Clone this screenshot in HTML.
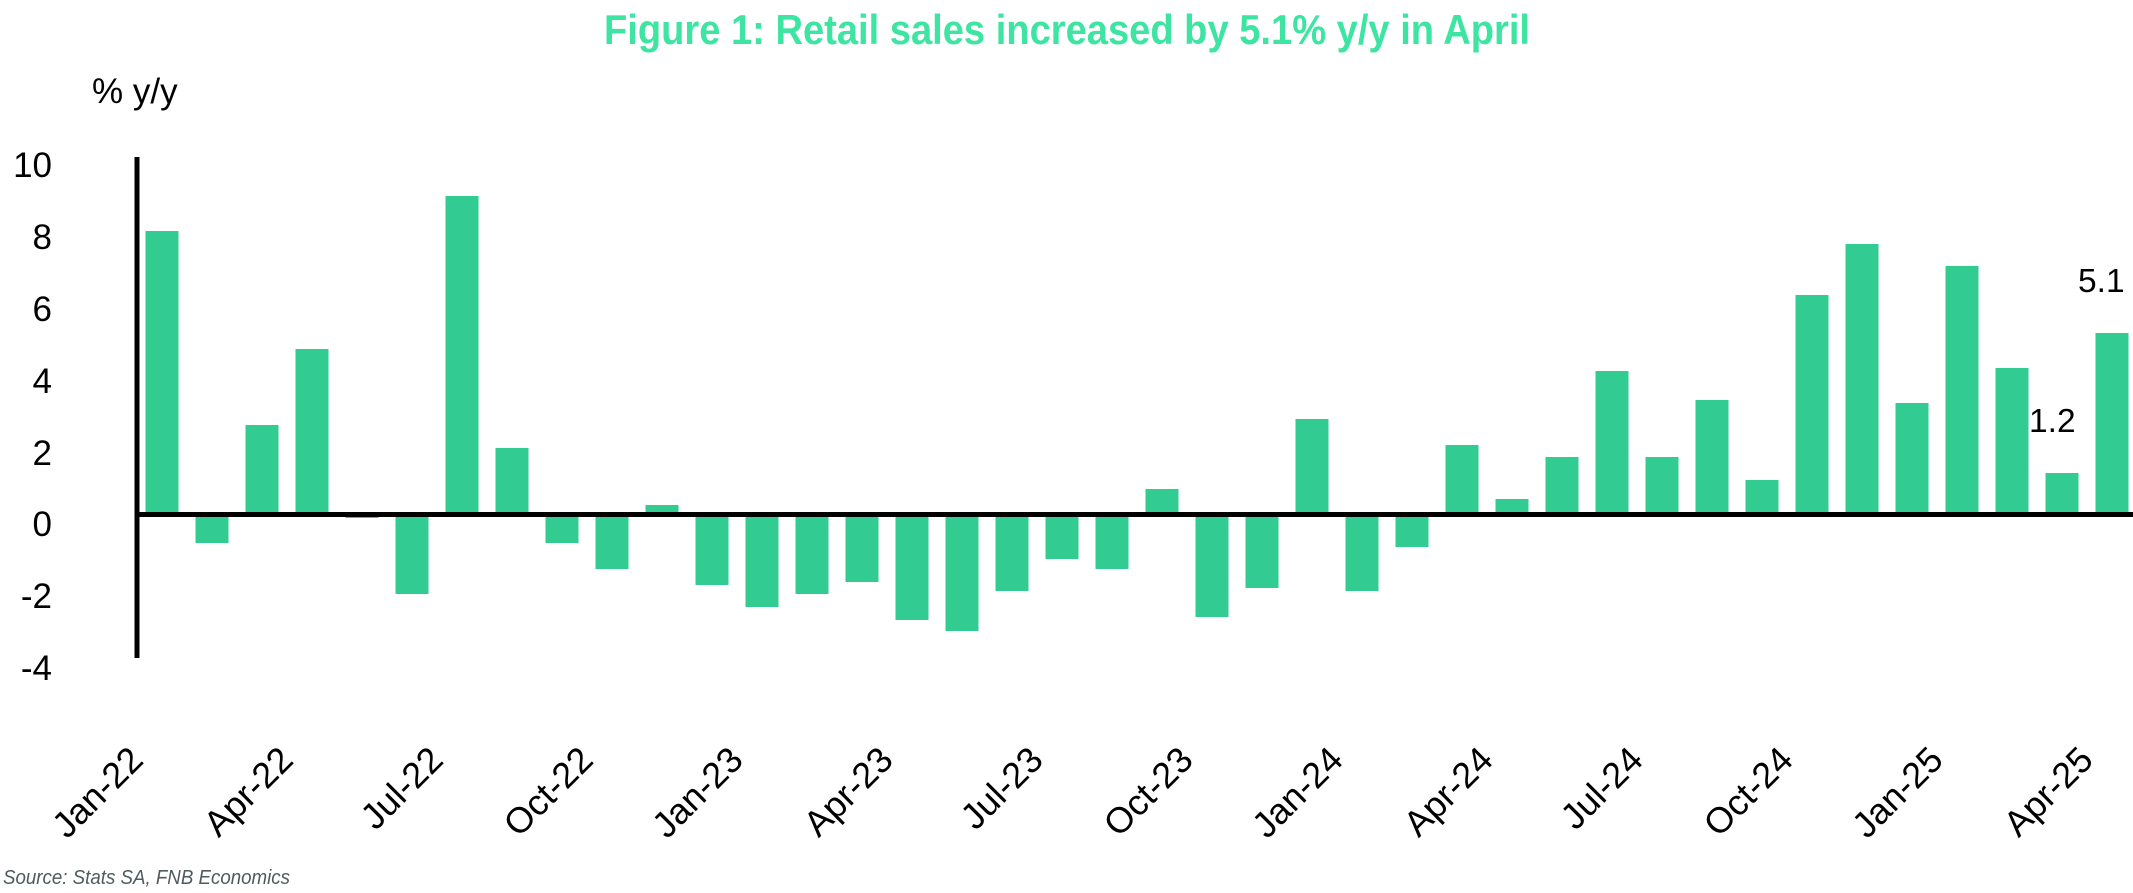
<!DOCTYPE html>
<html><head><meta charset="utf-8"><style>
html,body{margin:0;padding:0;background:#fff;}
svg{display:block;}
</style></head><body>
<svg width="2133" height="893" viewBox="0 0 2133 893" xmlns="http://www.w3.org/2000/svg">
<rect width="2133" height="893" fill="#fff"/>
<text x="604" y="44" font-family="Liberation Sans, sans-serif" font-weight="bold" font-size="42" fill="#3ee4a2" textLength="926" lengthAdjust="spacingAndGlyphs">Figure 1: Retail sales increased by 5.1% y/y in April</text>
<text x="92" y="103" font-family="Liberation Sans, sans-serif" font-size="35" fill="#000">% y/y</text>
<g font-family="Liberation Sans, sans-serif" font-size="35" fill="#000" text-anchor="end">
<text x="52" y="177">10</text>
<text x="52" y="249">8</text>
<text x="52" y="321">6</text>
<text x="52" y="393">4</text>
<text x="52" y="465">2</text>
<text x="52" y="536">0</text>
<text x="52" y="608">-2</text>
<text x="52" y="680">-4</text>
</g>
<g fill="#32cb91">
<rect x="145.5" y="231" width="33" height="283.5"/>
<rect x="195.5" y="514.5" width="33" height="28.5"/>
<rect x="245.5" y="425" width="33" height="89.5"/>
<rect x="295.5" y="349" width="33" height="165.5"/>
<rect x="345.5" y="514.5" width="33" height="3.5"/>
<rect x="395.5" y="514.5" width="33" height="79.5"/>
<rect x="445.5" y="196" width="33" height="318.5"/>
<rect x="495.5" y="448" width="33" height="66.5"/>
<rect x="545.5" y="514.5" width="33" height="28.5"/>
<rect x="595.5" y="514.5" width="33" height="54.5"/>
<rect x="645.5" y="505" width="33" height="9.5"/>
<rect x="695.5" y="514.5" width="33" height="70.5"/>
<rect x="745.5" y="514.5" width="33" height="92.5"/>
<rect x="795.5" y="514.5" width="33" height="79.5"/>
<rect x="845.5" y="514.5" width="33" height="67.5"/>
<rect x="895.5" y="514.5" width="33" height="105.5"/>
<rect x="945.5" y="514.5" width="33" height="116.5"/>
<rect x="995.5" y="514.5" width="33" height="76.5"/>
<rect x="1045.5" y="514.5" width="33" height="44.5"/>
<rect x="1095.5" y="514.5" width="33" height="54.5"/>
<rect x="1145.5" y="489" width="33" height="25.5"/>
<rect x="1195.5" y="514.5" width="33" height="102.5"/>
<rect x="1245.5" y="514.5" width="33" height="73.5"/>
<rect x="1295.5" y="419" width="33" height="95.5"/>
<rect x="1345.5" y="514.5" width="33" height="76.5"/>
<rect x="1395.5" y="514.5" width="33" height="32.5"/>
<rect x="1445.5" y="445" width="33" height="69.5"/>
<rect x="1495.5" y="499" width="33" height="15.5"/>
<rect x="1545.5" y="457" width="33" height="57.5"/>
<rect x="1595.5" y="371" width="33" height="143.5"/>
<rect x="1645.5" y="457" width="33" height="57.5"/>
<rect x="1695.5" y="400" width="33" height="114.5"/>
<rect x="1745.5" y="480" width="33" height="34.5"/>
<rect x="1795.5" y="295" width="33" height="219.5"/>
<rect x="1845.5" y="244" width="33" height="270.5"/>
<rect x="1895.5" y="403" width="33" height="111.5"/>
<rect x="1945.5" y="266" width="33" height="248.5"/>
<rect x="1995.5" y="368" width="33" height="146.5"/>
<rect x="2045.5" y="473" width="33" height="41.5"/>
<rect x="2095.5" y="333" width="33" height="181.5"/>
</g>
<rect x="134.5" y="157" width="5" height="501" fill="#000"/>
<rect x="134.5" y="512" width="1999" height="5" fill="#000"/>
<g font-family="Liberation Sans, sans-serif" font-size="33.5" fill="#000">
<text x="2029" y="432">1.2</text>
<text x="2078" y="292">5.1</text>
</g>
<g font-family="Liberation Sans, sans-serif" font-size="36" fill="#000" text-anchor="end">
<text transform="translate(145,762) rotate(-45)">Jan-22</text>
<text transform="translate(295,762) rotate(-45)">Apr-22</text>
<text transform="translate(445,762) rotate(-45)">Jul-22</text>
<text transform="translate(595,762) rotate(-45)">Oct-22</text>
<text transform="translate(745,762) rotate(-45)">Jan-23</text>
<text transform="translate(895,762) rotate(-45)">Apr-23</text>
<text transform="translate(1045,762) rotate(-45)">Jul-23</text>
<text transform="translate(1195,762) rotate(-45)">Oct-23</text>
<text transform="translate(1345,762) rotate(-45)">Jan-24</text>
<text transform="translate(1495,762) rotate(-45)">Apr-24</text>
<text transform="translate(1645,762) rotate(-45)">Jul-24</text>
<text transform="translate(1795,762) rotate(-45)">Oct-24</text>
<text transform="translate(1945,762) rotate(-45)">Jan-25</text>
<text transform="translate(2095,762) rotate(-45)">Apr-25</text>
</g>
<text x="3" y="884" font-family="Liberation Sans, sans-serif" font-style="italic" font-size="20" fill="#4f5b5d" textLength="287" lengthAdjust="spacingAndGlyphs">Source: Stats SA, FNB Economics</text>
</svg>
</body></html>
